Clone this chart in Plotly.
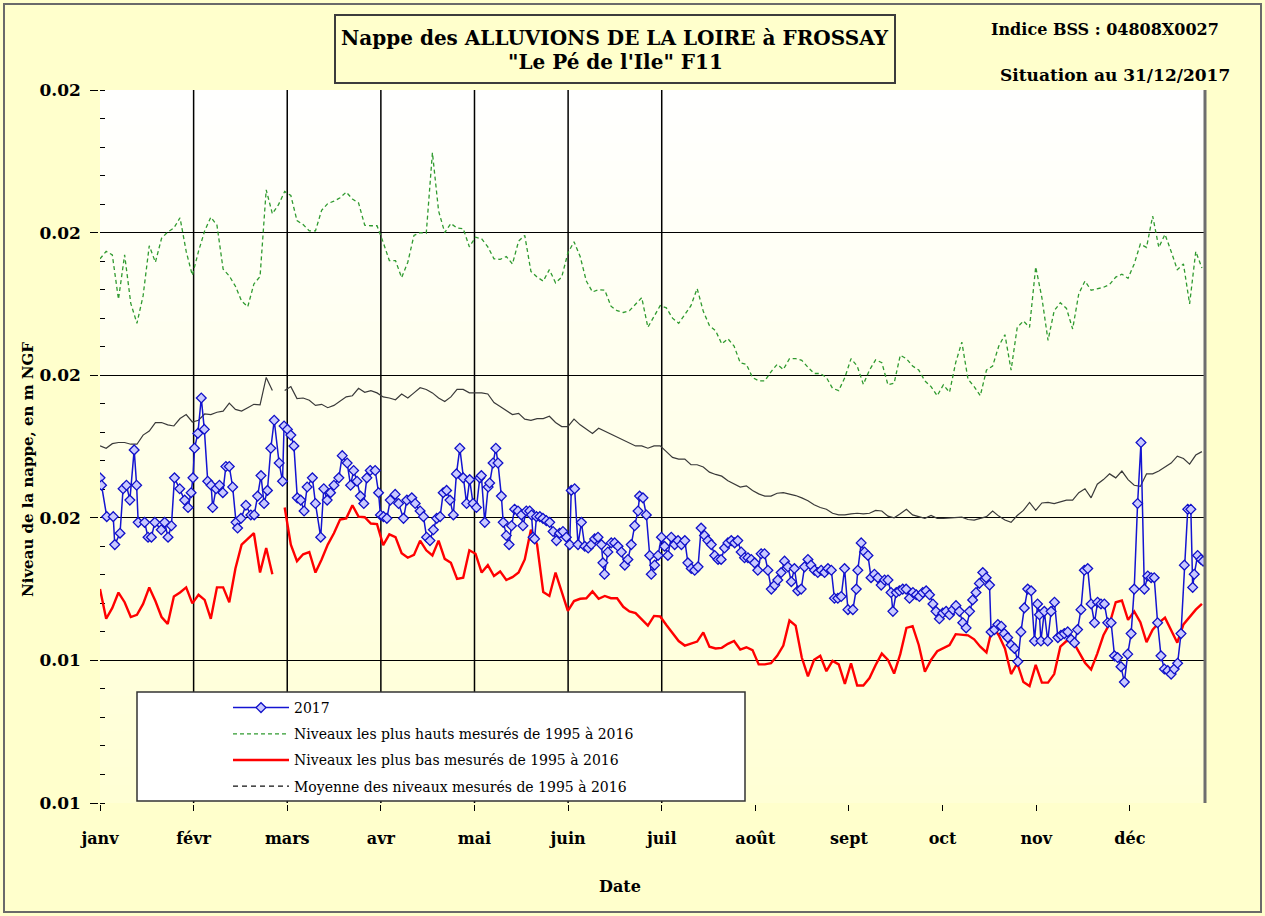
import plotly.graph_objects as go

# ------------------------------------------------------------------ data
mois = ["janv", "févr", "mars", "avr", "mai", "juin", "juil", "août", "sept", "oct", "nov", "déc"]
y_ticks = [0.01, 0.0125, 0.015, 0.0175, 0.02, 0.0225]
y_labels = ["0.01", "0.01", "0.02", "0.02", "0.02", "0.02"]

# day of year (0 = 1 Jan) for the three 1995-2016 envelope curves
jours_ref = list(range(0, 359, 2))

niveaux_max = [
    0.01954, 0.01967, 0.01961, 0.01883, 0.01961, 0.01876, 0.01841, 0.01889, 0.01977, 0.01948,
    0.01990, 0.02001, 0.02008, 0.02026, 0.01967, 0.01925, 0.01967, 0.02003, 0.02027, 0.02013,
    0.01936, 0.01924, 0.01906, 0.01880, 0.01870, 0.01910, 0.01923, 0.02075, 0.02033, 0.02049,
    0.02072, 0.02065, 0.02021, 0.02014, 0.02003, 0.02003, 0.02039, 0.02051, 0.02055, 0.02061,
    0.02071, 0.02059, 0.02052, 0.02013, 0.02012, 0.02012, 0.01983, 0.01951, 0.01951, 0.01921,
    0.01948, 0.01995, 0.02000, 0.01999, 0.02140, 0.02038, 0.02000, 0.02016, 0.02008, 0.02007,
    0.01975,
    0.01992, 0.01989, 0.01975, 0.01954, 0.01953, 0.01958, 0.01945, 0.01985, 0.01995, 0.01932,
    0.01922, 0.01915, 0.01935, 0.01912, 0.01922, 0.01964, 0.01984, 0.01958, 0.01915, 0.01896,
    0.01900, 0.01899, 0.01871, 0.01863, 0.01860, 0.01863, 0.01875, 0.01886, 0.01834, 0.01854,
    0.01872, 0.01868, 0.01850, 0.01841, 0.01857, 0.01872, 0.01902, 0.01862, 0.01837, 0.01828,
    0.01805, 0.01814, 0.01801, 0.01772, 0.01769, 0.01746, 0.01740, 0.01740, 0.01756, 0.01769,
    0.01760, 0.01779, 0.01779, 0.01776, 0.01764, 0.01753, 0.01753, 0.01746, 0.01727, 0.01723,
    0.01746,
    0.01779, 0.01766, 0.01734, 0.01759, 0.01777, 0.01772, 0.01733, 0.01736, 0.01785, 0.01779,
    0.01766, 0.01759, 0.01740, 0.01730, 0.01714, 0.01733, 0.01720, 0.01772, 0.01808, 0.01743,
    0.01730, 0.01714, 0.01759, 0.01766, 0.01801, 0.01821, 0.01759, 0.01834, 0.01845, 0.01834,
    0.01940, 0.01886, 0.01811, 0.01863, 0.01877, 0.01867, 0.01831, 0.01893, 0.01915, 0.01899,
    0.01901, 0.01904, 0.01909, 0.01922, 0.01927, 0.01920, 0.01945, 0.01980, 0.01974, 0.02029,
    0.01974, 0.01997, 0.01967, 0.01935, 0.01945, 0.01875, 0.01967, 0.01938,
]

niveaux_min = [
    0.01375, 0.01323, 0.01342, 0.01369, 0.01352, 0.01326, 0.01330, 0.01349, 0.01378, 0.01354,
    0.01326, 0.01314, 0.01362, 0.01369, 0.01378, 0.01350, 0.01365, 0.01356, 0.01323, 0.01378,
    0.01378, 0.01352, 0.01411, 0.01453, 0.01463, 0.01473, 0.01404, 0.01447, 0.01401, None,
    0.01518, 0.01453, 0.01424, 0.01436, 0.01440, 0.01404, 0.01427, 0.01453, 0.01473, 0.01497,
    0.01499, 0.01522, 0.01502, 0.01501, 0.01490, 0.01489, 0.01452, 0.01471, 0.01466, 0.01438,
    0.01430, 0.01435, 0.01460, 0.01443, 0.01434, 0.01460, 0.01428, 0.01421, 0.01393, 0.01395,
    0.01443,
    0.01437, 0.01404, 0.01417, 0.01398, 0.01406, 0.01391, 0.01396, 0.01404, 0.01427, 0.01479,
    0.01453, 0.01370, 0.01363, 0.01404, 0.01369, 0.01337, 0.01354, 0.01358, 0.01359, 0.01371,
    0.01358, 0.01363, 0.01359, 0.01359, 0.01344, 0.01336, 0.01333, 0.01321, 0.01311, 0.01328,
    0.01327, 0.01312, 0.01297, 0.01284, 0.01276, 0.01279, 0.01283, 0.01299, 0.01274, 0.01271,
    0.01272, 0.01279, 0.01284, 0.01269, 0.01273, 0.01268, 0.01243, 0.01243, 0.01245, 0.01258,
    0.01276, 0.01320, 0.01311, 0.01255, 0.01222, 0.01251, 0.01258, 0.01231, 0.01249, 0.01243,
    0.01209,
    0.01245, 0.01206, 0.01206, 0.01219, 0.01242, 0.01262, 0.01251, 0.01227, 0.01261, 0.01307,
    0.01310, 0.01277, 0.01230, 0.01251, 0.01266, 0.01271, 0.01277, 0.01296, 0.01295, 0.01294,
    0.01287, 0.01274, 0.01264, 0.01310, 0.01294, 0.01271, 0.01226, 0.01245, 0.01212, 0.01205,
    0.01242, 0.01211, 0.01211, 0.01226, 0.01274, 0.01284, 0.01284, 0.01266, 0.01246, 0.01234,
    0.01262, 0.01294, 0.01314, 0.01352, 0.01355, 0.01321, 0.01336, 0.01317, 0.01282, 0.01304,
    0.01316, 0.01325, 0.01303, 0.01281, 0.01313, 0.01327, 0.01339, 0.01349,
]

niveaux_moy = [
    0.01626, 0.01622, 0.01630, 0.01632, 0.01632, 0.01629, 0.01629, 0.01645, 0.01652, 0.01667,
    0.01667, 0.01663, 0.01661, 0.01674, 0.01681, 0.01668, 0.01671, 0.01682, 0.01681, 0.01685,
    0.01687, 0.01701, 0.01690, 0.01687, 0.01693, 0.01699, 0.01698, 0.01746, 0.01723, None,
    0.01723, 0.01730, 0.01709, 0.01710, 0.01706, 0.01697, 0.01699, 0.01693, 0.01697, 0.01704,
    0.01712, 0.01714, 0.01727, 0.01720, 0.01723, 0.01719, 0.01712, 0.01710, 0.01707, 0.01717,
    0.01710, 0.01719, 0.01728, 0.01725, 0.01719, 0.01710, 0.01704, 0.01712, 0.01725, 0.01725,
    0.01719,
    0.01719, 0.01719, 0.01717, 0.01702, 0.01695, 0.01688, 0.01681, 0.01683, 0.01673, 0.01671,
    0.01674, 0.01674, 0.01678, 0.01667, 0.01660, 0.01660, 0.01673, 0.01663, 0.01655, 0.01648,
    0.01657, 0.01652, 0.01647, 0.01642, 0.01637, 0.01632, 0.01626, 0.01626, 0.01622, 0.01626,
    0.01626, 0.01616, 0.01606, 0.01603, 0.01603, 0.01593, 0.01593, 0.01589, 0.01580, 0.01576,
    0.01573, 0.01565, 0.01559, 0.01554, 0.01556, 0.01548, 0.01542, 0.01538, 0.01538, 0.01543,
    0.01544, 0.01542, 0.01539, 0.01535, 0.01530, 0.01523, 0.01518, 0.01515, 0.01508, 0.01505,
    0.01505,
    0.01507, 0.01508, 0.01507, 0.01508, 0.01513, 0.01512, 0.01503, 0.01500, 0.01507, 0.01515,
    0.01505, 0.01502, 0.01499, 0.01504, 0.01499, 0.01499, 0.01500, 0.01500, 0.01501, 0.01497,
    0.01496, 0.01499, 0.01502, 0.01512, 0.01503, 0.01496, 0.01492, 0.01504, 0.01513, 0.01527,
    0.01513, 0.01526, 0.01527, 0.01525, 0.01528, 0.01531, 0.01531, 0.01544, 0.01551, 0.01535,
    0.01559, 0.01567, 0.01577, 0.01570, 0.01582, 0.01567, 0.01557, 0.01555, 0.01577, 0.01577,
    0.01582, 0.01589, 0.01596, 0.01608, 0.01604, 0.01594, 0.01610, 0.01616,
]

# 2017 measurements (day of year, level)
jours_2017 = [
    0, 0.5, 2.2, 4.3, 4.8, 6.5, 7.5, 8.6, 9.7, 11.1,
    11.9, 12.4, 14.5, 15.6, 16.7, 17.8, 19.9, 21.0, 22.1, 23.2,
    24.2, 25.9, 27.5, 28.6, 29.6, 30.2, 30.7, 31.8, 32.9, 33.9,
    35.0, 36.1, 36.6, 37.7, 38.8, 39.9, 40.9, 42.0, 43.1, 44.2,
    44.7, 45.8, 47.4, 49.0, 50.1, 51.2, 52.3, 53.3, 54.4, 55.5,
    56.6, 58.2, 59.3, 59.8, 60.9, 62.0, 63.0, 64.1, 65.2, 66.3,
    67.3, 69.0, 70.0, 71.7, 72.7, 73.8, 74.9, 76.0, 77.6, 78.7,
    80.3, 81.4, 82.4, 83.5, 84.6, 85.7, 86.7, 87.8, 89.4, 90.5,
    91.1, 92.1, 93.2, 94.3, 95.9, 97.0, 98.6, 99.7, 101.3, 102.4,
    104.0, 105.1, 106.1, 107.2, 108.3, 109.4, 110.5, 111.5, 112.6, 113.7,
    114.8, 115.8, 116.9, 118.0, 119.1,
    120.1, 121.2, 122.3, 123.4, 123.9, 125.0, 126.1, 126.6, 127.7, 128.6,
    129.3, 130.4, 131.0, 132.0, 132.9, 133.7, 134.7, 135.8, 136.9, 137.4,
    138.5, 139.6, 140.2, 140.7, 141.2, 141.8, 142.9, 143.9, 145.0, 146.1,
    147.2, 148.3, 149.3, 150.4, 151.5, 152.6, 153.1, 154.2, 155.3, 156.4,
    157.5, 158.6, 159.6, 160.7, 161.8, 162.9, 163.4, 163.9, 165.0, 166.1,
    167.2, 168.3, 169.4, 170.5, 171.5, 172.6, 173.7, 174.8, 175.3, 176.4,
    177.5, 178.6, 179.1, 180.2, 181.3, 182.4, 183.4, 184.5, 185.6, 186.7,
    187.8, 188.9, 190.0, 191.0, 192.1, 193.2, 194.3, 195.3, 196.4, 197.5,
    198.6, 199.7, 200.8, 201.8, 202.9, 204.0, 205.1, 206.2, 207.2, 208.3,
    209.4, 210.5, 211.6, 212.7, 213.7, 214.8, 215.9, 217.0, 218.1, 219.2,
    220.2, 221.3, 222.4, 223.5, 224.6, 225.6, 226.7, 227.8, 228.9, 230.0,
    231.0, 232.1, 233.2, 234.3, 235.4, 236.5, 237.6, 238.6, 239.7, 240.8,
    241.9, 243.0,
    244.6, 245.7, 246.2, 247.3, 248.4, 249.5, 250.5, 251.6, 252.7, 253.8,
    254.9, 256.0, 257.0, 257.6, 258.7, 259.7, 260.8, 261.9, 263.0, 264.1,
    265.2, 266.2, 267.3, 268.4, 269.5, 270.6, 271.6, 272.7, 273.8, 274.9,
    276.0, 277.1, 278.1, 279.2, 280.3, 281.4, 282.5, 283.5, 284.6, 285.7,
    286.8, 287.9, 289.0, 289.5, 290.6, 291.7, 292.8, 293.8, 294.9, 296.0,
    297.1, 298.2, 299.2, 300.3, 301.4, 302.5, 303.6, 304.6, 305.2, 305.7,
    306.8, 307.9, 309.0, 310.1, 311.2, 312.2, 313.3, 314.4, 315.5, 316.6,
    317.6, 318.7, 319.8, 320.9, 322.0, 323.1, 324.1, 325.2, 326.3, 327.4,
    328.5, 329.6, 330.6, 331.7, 332.8, 333.9, 335.0, 336.0, 337.1, 338.2,
    339.3, 340.4, 341.5, 342.5, 343.6, 344.7, 345.8, 346.9, 348.0, 349.0,
    350.1, 351.2, 352.3, 353.4, 354.4, 355.0, 355.5, 356.6, 357.7, 358.4,
]
niveaux_2017 = [
    0.01570, 0.01557, 0.01502, 0.01502, 0.01453, 0.01473, 0.01551, 0.01557, 0.01531, 0.01619,
    0.01557, 0.01492, 0.01492, 0.01466, 0.01466, 0.01492, 0.01479, 0.01492, 0.01466, 0.01486,
    0.01570, 0.01551, 0.01531, 0.01518, 0.01544, 0.01570, 0.01622, 0.01648, 0.01710, 0.01655,
    0.01564, 0.01557, 0.01518, 0.01551, 0.01557, 0.01544, 0.01590, 0.01590, 0.01554, 0.01492,
    0.01482, 0.01499, 0.01522, 0.01505, 0.01505, 0.01538, 0.01574, 0.01525, 0.01548, 0.01622,
    0.01671, 0.01596, 0.01564, 0.01661, 0.01655, 0.01645, 0.01626, 0.01535, 0.01531, 0.01512,
    0.01554, 0.01570, 0.01525, 0.01466, 0.01551, 0.01531, 0.01544, 0.01557, 0.01570, 0.01609,
    0.01596, 0.01557, 0.01583, 0.01564, 0.01538, 0.01525, 0.01570, 0.01583, 0.01583, 0.01544,
    0.01505, 0.01502, 0.01499, 0.01531, 0.01541, 0.01525, 0.01499, 0.01531, 0.01535, 0.01525,
    0.01512, 0.01502, 0.01466, 0.01460, 0.01479, 0.01499, 0.01502, 0.01544, 0.01548, 0.01531,
    0.01505, 0.01577, 0.01622, 0.01570, 0.01525,
    0.01567, 0.01525, 0.01518, 0.01570, 0.01574, 0.01492, 0.01554, 0.01561, 0.01596, 0.01622,
    0.01596, 0.01538, 0.01492, 0.01469, 0.01453, 0.01486, 0.01515, 0.01512, 0.01505, 0.01486,
    0.01512, 0.01512, 0.01505, 0.01466, 0.01463, 0.01502, 0.01502, 0.01499, 0.01495, 0.01492,
    0.01476, 0.01460, 0.01473, 0.01476, 0.01466, 0.01453, 0.01548, 0.01551, 0.01453, 0.01492,
    0.01450, 0.01447, 0.01453, 0.01463, 0.01466, 0.01453, 0.01421, 0.01401, 0.01440, 0.01456,
    0.01456, 0.01450, 0.01440, 0.01417, 0.01427, 0.01453, 0.01486, 0.01512, 0.01538, 0.01535,
    0.01505, 0.01434, 0.01401, 0.01417, 0.01434, 0.01466, 0.01450, 0.01434, 0.01466, 0.01453,
    0.01460, 0.01453, 0.01460, 0.01421, 0.01411, 0.01408, 0.01414, 0.01482, 0.01469, 0.01460,
    0.01453, 0.01434, 0.01427, 0.01427, 0.01447, 0.01456, 0.01460, 0.01456, 0.01460, 0.01440,
    0.01430, 0.01430, 0.01427, 0.01421, 0.01408, 0.01437, 0.01437, 0.01408, 0.01375, 0.01382,
    0.01391, 0.01404, 0.01424, 0.01414, 0.01388, 0.01411, 0.01372, 0.01375, 0.01414, 0.01427,
    0.01417, 0.01408, 0.01404, 0.01408, 0.01404, 0.01411, 0.01408, 0.01359, 0.01359, 0.01362,
    0.01411, 0.01339,
    0.01339, 0.01375, 0.01408, 0.01456, 0.01440, 0.01434, 0.01395, 0.01401, 0.01395, 0.01382,
    0.01391, 0.01391, 0.01369, 0.01336, 0.01369, 0.01372, 0.01375, 0.01375, 0.01359, 0.01369,
    0.01365, 0.01362, 0.01369, 0.01372, 0.01365, 0.01349, 0.01336, 0.01323, 0.01333, 0.01336,
    0.01330, 0.01339, 0.01346, 0.01336, 0.01316, 0.01307, 0.01336, 0.01356, 0.01369, 0.01385,
    0.01404, 0.01395, 0.01382, 0.01300, 0.01304, 0.01313, 0.01310, 0.01297, 0.01290, 0.01277,
    0.01271, 0.01248, 0.01300, 0.01342, 0.01375, 0.01372, 0.01284, 0.01349, 0.01330, 0.01284,
    0.01336, 0.01284, 0.01336, 0.01352, 0.01290, 0.01294, 0.01297, 0.01300, 0.01287, 0.01281,
    0.01304, 0.01339, 0.01408, 0.01411, 0.01349, 0.01316, 0.01352, 0.01349, 0.01349, 0.01316,
    0.01316, 0.01258, 0.01255, 0.01239, 0.01212, 0.01261, 0.01297, 0.01375, 0.01525, 0.01632,
    0.01375, 0.01398, 0.01395, 0.01395, 0.01316, 0.01258, 0.01235, 0.01232, 0.01226, 0.01235,
    0.01245, 0.01297, 0.01417, 0.01515, 0.01515, 0.01378, 0.01401, 0.01434, 0.01427, 0.01424,
]

# ------------------------------------------------------------------ helpers
SERIF = "DejaVu Serif"
PL, PR, PT, PB = 100, 60, 90, 113        # plot margins (px)
W, H = 1265, 916
PW, PH = W - PL - PR, H - PT - PB


def px_x(px):
    return (px - PL) / PW


def px_y(py):
    return (H - PB - py) / PH


pos_mois = [i * 365 / 12 for i in range(len(mois))]

# ------------------------------------------------------------------ traces
fig = go.Figure()

fig.add_trace(go.Scatter(
    x=jours_2017, y=niveaux_2017, mode="lines+markers", name="2017",
    line=dict(color="#1414D2", width=1.5),
    marker=dict(symbol="diamond", size=7.5, color="#C9C9FF",
                line=dict(color="#1010C8", width=1.3)),
    legendrank=1, legendgroup="a", zorder=4,
))
fig.add_trace(go.Scatter(
    x=jours_ref, y=niveaux_max, mode="lines",
    name="Niveaux les plus hauts mesurés de 1995 à 2016",
    line=dict(color="#2F9A2F", width=1.3, dash="4px,3px"),
    legendrank=2, legendgroup="b", zorder=1,
))
fig.add_trace(go.Scatter(
    x=jours_ref, y=niveaux_min, mode="lines",
    name="Niveaux les plus bas mesurés de 1995 à 2016",
    line=dict(color="#FF0000", width=2.4),
    legendrank=3, legendgroup="c", zorder=3,
))
fig.add_trace(go.Scatter(
    x=[None], y=[None], mode="lines",
    name="Moyenne des niveaux mesurés de 1995 à 2016",
    line=dict(color="#111111", width=1.3, dash="5px,4px"),
    legendrank=4, legendgroup="d",
))
fig.add_trace(go.Scatter(
    x=jours_ref, y=niveaux_moy, mode="lines", showlegend=False,
    line=dict(color="#3A3A3A", width=1.2), legendgroup="d", zorder=2,
))

# ------------------------------------------------------------------ shapes
shapes = []
N = 40
for i in range(N):
    b = int(round(212 + (255 - 212) * (i + 0.5) / N))
    shapes.append(dict(type="rect", xref="x domain", yref="y domain",
                       x0=0, x1=1, y0=i / N, y1=min(1, (i + 1) / N + 0.003),
                       fillcolor=f"rgb(255,255,{b})", line=dict(width=0), layer="below"))
for m in pos_mois[1:7]:
    shapes.append(dict(type="line", xref="x", yref="y domain", x0=m, x1=m, y0=0, y1=1,
                       line=dict(color="black", width=1.5), layer="below"))
# legend frame
shapes.append(dict(type="rect", xref="paper", yref="paper",
                   x0=px_x(137), x1=px_x(745), y0=px_y(801), y1=px_y(692),
                   fillcolor="white", line=dict(color="#333333", width=1.5), layer="above"))
# right border of plot area
shapes.append(dict(type="line", xref="paper", yref="paper", x0=px_x(1205), x1=px_x(1205),
                   y0=0, y1=1, line=dict(color="#6E6E6E", width=3), layer="above"))
# title box
shapes.append(dict(type="rect", xref="paper", yref="paper",
                   x0=px_x(335), x1=px_x(895), y0=px_y(83), y1=px_y(15),
                   fillcolor="#FFFFCC", line=dict(color="#3C3C3C", width=2)))
# outer frame
shapes.append(dict(type="rect", xref="paper", yref="paper",
                   x0=px_x(4), x1=px_x(1261), y0=px_y(912), y1=px_y(4),
                   fillcolor="rgba(0,0,0,0)", line=dict(color="#6A6A6A", width=2)))

# ------------------------------------------------------------------ annotations
ann = [
    dict(text="<b>Nappe des ALLUVIONS DE LA LOIRE à FROSSAY</b>", x=px_x(615), y=px_y(38),
         font=dict(size=20)),
    dict(text="<b>\"Le Pé de l'Ile\" F11</b>", x=px_x(615), y=px_y(62), font=dict(size=20)),
    dict(text="<b>Indice BSS : 04808X0027</b>", x=px_x(1105), y=px_y(30), font=dict(size=16)),
    dict(text="<b>Situation au 31/12/2017</b>", x=px_x(1115), y=px_y(75), font=dict(size=17)),
    dict(text="<b>Date</b>", x=px_x(620), y=px_y(886), font=dict(size=16)),
    dict(text="<b>Niveau de la nappe, en m NGF</b>", x=px_x(28), y=px_y(470),
         textangle=-90, font=dict(size=15)),
]
for a in ann:
    a.update(xref="paper", yref="paper", showarrow=False, xanchor="center", yanchor="middle")
    a["font"].update(family=SERIF, color="black")

# ------------------------------------------------------------------ layout
fig.update_layout(
    width=W, height=H,
    margin=dict(l=PL, r=PR, t=PT, b=PB, autoexpand=False),
    paper_bgcolor="#FFFFCC", plot_bgcolor="#FFFFF0",
    font=dict(family=SERIF, color="black"),
    shapes=shapes, annotations=ann,
    showlegend=True,
    legend=dict(x=px_x(228), y=px_y(692), xanchor="left", yanchor="top",
                bgcolor="rgba(0,0,0,0)", borderwidth=0,
                font=dict(family=SERIF, size=14, color="black"),
                traceorder="grouped", tracegroupgap=5, itemwidth=56),
    xaxis=dict(range=[0, 359], tickmode="array", tickvals=pos_mois,
               ticktext=[f"<b>{m}</b>" for m in mois],
               ticks="outside", ticklen=6, tickwidth=1.3, tickcolor="black",
               ticklabelstandoff=14,
               tickfont=dict(family=SERIF, size=16, color="black"),
               showgrid=False, zeroline=False,
               showline=True, linecolor="black", linewidth=1.5, mirror=True),
    yaxis=dict(range=[0.01, 0.0225], tickmode="array", tickvals=y_ticks,
               ticktext=[f"<b>{t}</b>" for t in y_labels],
               ticks="outside", ticklen=8, tickwidth=1.3, tickcolor="black",
               ticklabelstandoff=6,
               tickfont=dict(family=SERIF, size=17, color="black"),
               showgrid=True, gridcolor="black", gridwidth=1.3, zeroline=False,
               showline=True, linecolor="black", linewidth=1.5, mirror=True,
               minor=dict(tick0=0.01, dtick=0.0005, ticks="inside", ticklen=5,
                          tickcolor="black", tickwidth=1, showgrid=False)),
)

fig.write_html("out.html", config={"displayModeBar": False},
               post_script="document.body.style.margin='0';document.body.style.overflow='hidden';")
